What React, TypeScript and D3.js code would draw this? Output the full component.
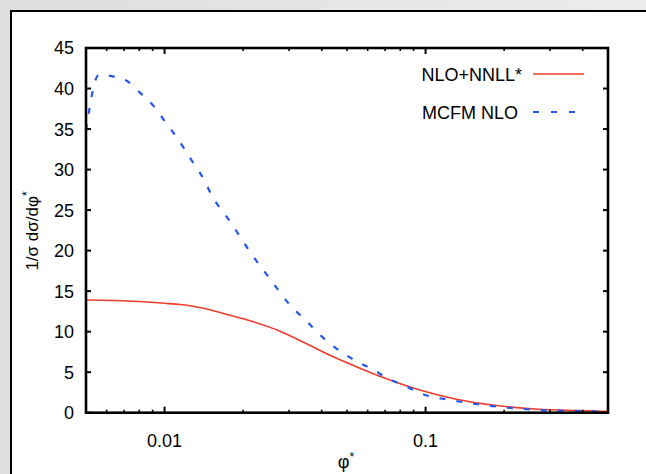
import * as d3 from 'd3'

// NLO+NNLL* (solid red)
const redPhi = [0.005, 0.0075, 0.01, 0.0115, 0.013, 0.0145, 0.0165, 0.022, 0.028, 0.035, 0.045, 0.056, 0.07, 0.095, 0.13, 0.18, 0.27, 0.39, 0.5]
const redVal = [13.9, 13.75, 13.5, 13.35, 13.1, 12.8, 12.3, 11.2, 10.0, 8.5, 6.8, 5.5, 4.25, 2.8, 1.7, 0.95, 0.42, 0.25, 0.15]

// MCFM NLO (dashed blue)
const bluePhi = [0.005, 0.0056, 0.0065, 0.0072, 0.0081, 0.0091, 0.01, 0.011, 0.012, 0.013, 0.0142, 0.015, 0.018, 0.0214, 0.0255, 0.0304, 0.0342, 0.042, 0.0547, 0.0632, 0.0713, 0.0824, 0.0955, 0.128, 0.182, 0.275, 0.39, 0.5]
const blueVal = [34.8, 41.7, 41.4, 40.9, 39.4, 37.8, 36.0, 34.2, 32.4, 30.6, 28.7, 27.1, 23.4, 19.7, 16.4, 13.2, 11.6, 8.8, 6.3, 5.3, 4.25, 3.4, 2.4, 1.5, 0.8, 0.33, 0.2, 0.12]

const yTicks = [0, 5, 10, 15, 20, 25, 30, 35, 40, 45]
const xMajor = [0.01, 0.1]
const xMinor = [0.006, 0.007, 0.008, 0.009, 0.02, 0.03, 0.04, 0.05, 0.06, 0.07, 0.08, 0.09, 0.2, 0.3, 0.4, 0.5]
const legendNames = ['NLO+NNLL*', 'MCFM NLO']

const W = 646
const H = 474
const m = { left: 86, top: 48, right: 608, bottom: 412.7 }
const font = "'Liberation Sans', Arial, Helvetica, sans-serif"
const red = '#ee3d2c'
const blue = '#2357ee'

export default function App() {
  const x = d3.scaleLog().domain([0.005, 0.5]).range([m.left, m.right])
  const y = d3.scaleLinear().domain([0, 45]).range([m.bottom, m.top])

  const line = d3.line<[number, number]>()
    .x(d => x(d[0]))
    .y(d => y(d[1]))
    .curve(d3.curveMonotoneX)

  const redPath = line(redPhi.map((p, i) => [p, redVal[i]]))
  const bluePath = line(bluePhi.map((p, i) => [p, blueVal[i]]))

  return (
    <svg width={W} height={H} style={{ position: 'absolute', left: 0, top: 0 }} fontFamily={font}>
      <defs>
        <linearGradient id="bg" x1="0" y1="0" x2="1" y2="0">
          <stop offset="0" stopColor="#dedede" />
          <stop offset="1" stopColor="#ececec" />
        </linearGradient>
        <clipPath id="plot">
          <rect x={m.left} y={m.top} width={m.right - m.left} height={m.bottom - m.top} />
        </clipPath>
      </defs>
      <rect x={0} y={0} width={W} height={H} fill="url(#bg)" />
      <rect x={11} y={11} width={W} height={H} fill="#fff" stroke="#000" strokeWidth={2} />

      {/* curves */}
      <g clipPath="url(#plot)">
        <path d={redPath ?? ''} fill="none" stroke={red} strokeWidth={1.6} />
        <path d={bluePath ?? ''} fill="none" stroke={blue} strokeWidth={2.2} strokeDasharray="6,11" />
      </g>

      {/* y ticks, both sides */}
      {yTicks.map(t => (
        <g key={'y' + t}>
          <line x1={m.left} x2={m.left + 5} y1={y(t)} y2={y(t)} stroke="#000" strokeWidth={2} />
          <line x1={m.right - 5} x2={m.right} y1={y(t)} y2={y(t)} stroke="#000" strokeWidth={2} />
          <text x={74} y={y(t)} dy="0.36em" textAnchor="end" fontSize={18}>{t}</text>
        </g>
      ))}

      {/* x ticks, bottom and top */}
      {xMajor.map(t => (
        <g key={'xM' + t}>
          <line x1={x(t)} x2={x(t)} y1={m.bottom} y2={m.bottom - 6} stroke="#000" strokeWidth={2} />
          <line x1={x(t)} x2={x(t)} y1={m.top} y2={m.top + 6} stroke="#000" strokeWidth={2} />
          <text x={x(t)} y={447} textAnchor="middle" fontSize={18}>{t}</text>
        </g>
      ))}
      {xMinor.map(t => (
        <g key={'xm' + t}>
          <line x1={x(t)} x2={x(t)} y1={m.bottom} y2={m.bottom - 3} stroke="#000" strokeWidth={1.6} />
          <line x1={x(t)} x2={x(t)} y1={m.top} y2={m.top + 3} stroke="#000" strokeWidth={1.6} />
        </g>
      ))}

      {/* frame */}
      <rect x={m.left} y={m.top} width={m.right - m.left} height={m.bottom - m.top} fill="none" stroke="#000" strokeWidth={2.6} />

      {/* axis labels */}
      <text x={346} y={468} textAnchor="middle" fontSize={18}>
        φ<tspan dy={-7} fontSize={12}>*</tspan>
      </text>
      <text transform="translate(38,231) rotate(-90)" textAnchor="middle" fontSize={17}>
        1/σ dσ/dφ<tspan dy={-7} fontSize={12}>*</tspan>
      </text>

      {/* legend */}
      <text x={522} y={80.5} textAnchor="end" fontSize={18}>{legendNames[0]}</text>
      <line x1={533} x2={584} y1={74} y2={74} stroke={red} strokeWidth={1.6} />
      <text x={518} y={118.5} textAnchor="end" fontSize={18}>{legendNames[1]}</text>
      <line x1={533} x2={584} y1={112} y2={112} stroke={blue} strokeWidth={2.2} strokeDasharray="6,12" />
    </svg>
  )
}
